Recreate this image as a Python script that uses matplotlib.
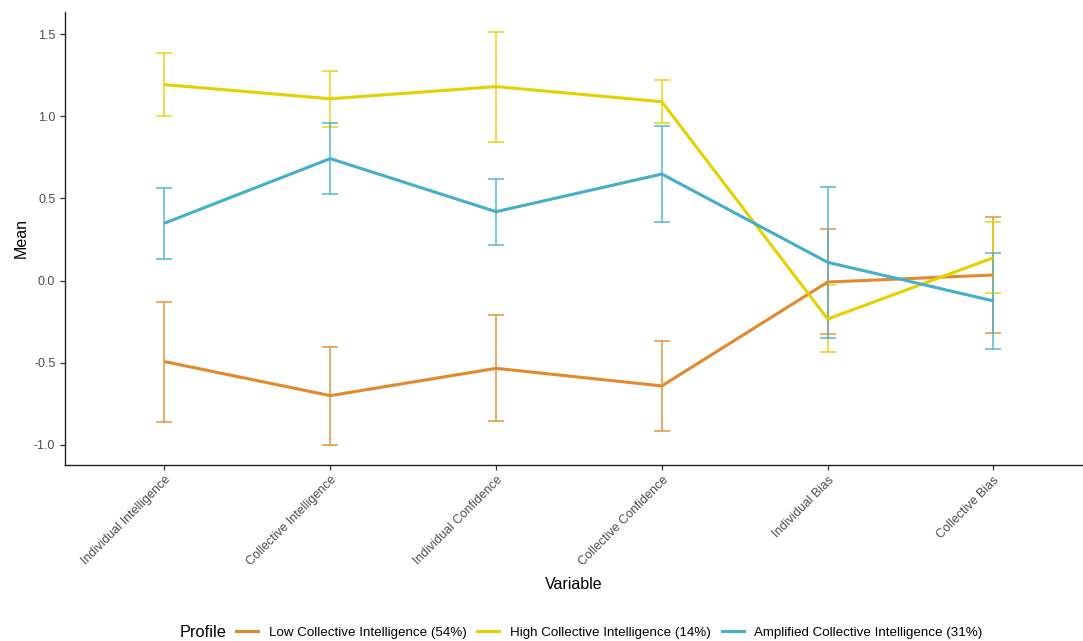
import matplotlib
matplotlib.use("Agg")
import matplotlib.pyplot as plt
from matplotlib.lines import Line2D

plt.rcParams['font.family'] = ['Liberation Sans', 'DejaVu Sans']

variables = ['Individual Intelligence', 'Collective Intelligence', 'Individual Confidence',
             'Collective Confidence', 'Individual Bias', 'Collective Bias']
profiles = ['Low Collective Intelligence (54%)', 'High Collective Intelligence (14%)',
            'Amplified Collective Intelligence (31%)']
colors = ['#E3892B', '#E5D000', '#45AECB']

low_mean = [-0.493, -0.700, -0.534, -0.641, -0.009, 0.034]
low_upper = [-0.128, -0.402, -0.209, -0.367, 0.312, 0.387]
low_lower = [-0.862, -1.000, -0.854, -0.917, -0.325, -0.317]

high_mean = [1.192, 1.106, 1.180, 1.088, -0.234, 0.139]
high_upper = [1.384, 1.275, 1.512, 1.218, -0.029, 0.358]
high_lower = [1.001, 0.936, 0.845, 0.959, -0.436, -0.077]

amp_mean = [0.349, 0.742, 0.419, 0.648, 0.111, -0.124]
amp_upper = [0.561, 0.957, 0.618, 0.940, 0.567, 0.168]
amp_lower = [0.131, 0.525, 0.215, 0.356, -0.347, -0.418]

series = [(low_mean, low_upper, low_lower),
          (high_mean, high_upper, high_lower),
          (amp_mean, amp_upper, amp_lower)]

fig = plt.figure(figsize=(10.83, 6.41), dpi=100)
ax = fig.add_axes([0.060, 0.2746, 0.94, 0.7067])

x = list(range(1, len(variables) + 1))
for (m, up, lo), c in zip(series, colors):
    err = [[mi - l for mi, l in zip(m, lo)], [u - mi for u, mi in zip(up, m)]]
    ax.errorbar(x, m, yerr=err, fmt='none', ecolor=c, elinewidth=1.1,
                capsize=5.8, capthick=1.1, alpha=0.9, zorder=2)
for (m, up, lo), c in zip(series, colors):
    ax.plot(x, m, color=c, linewidth=2.2, solid_capstyle='butt', zorder=3)

ax.set_xlim(0.4, 6.54)
ax.set_ylim(-1.122, 1.634)
ax.set_yticks([-1.0, -0.5, 0.0, 0.5, 1.0, 1.5])
ax.set_yticklabels(['-1.0', '-0.5', '0.0', '0.5', '1.0', '1.5'])
ax.set_xticks(x)
ax.set_xticklabels(variables, rotation=45, ha='right', rotation_mode='anchor')

for side in ['top', 'right']:
    ax.spines[side].set_visible(False)
for side in ['left', 'bottom']:
    ax.spines[side].set_linewidth(1.0)
    ax.spines[side].set_color('#222222')
ax.tick_params(axis='both', length=3.5, width=0.9, color='#333333',
               labelcolor='#4D4D4D', labelsize=9)
ax.tick_params(axis='x', pad=3)

ax.set_ylabel('Mean', fontsize=11.5, color='black', labelpad=4)
ax.set_xlabel('Variable', fontsize=11.5, color='black', labelpad=6)

handles = [Line2D([0], [0], color=c, linewidth=2.2) for c in colors]
fig.text(0.166, 0.0135, 'Profile', fontsize=11.8, ha='left', va='center')
fig.legend(handles, profiles, loc='center left', bbox_to_anchor=(0.207, 0.0135),
           ncol=3, frameon=False, fontsize=9.6, handlelength=1.65,
           handletextpad=0.8, columnspacing=0.8)

fig.savefig('out.png', dpi=100)
